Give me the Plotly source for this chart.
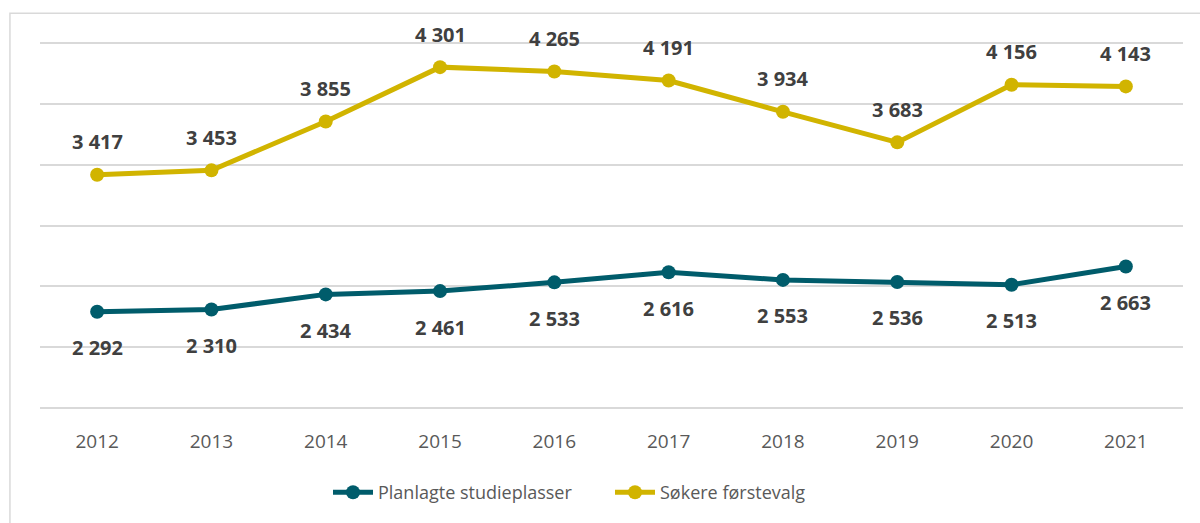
import plotly.graph_objects as go

years = ["2012", "2013", "2014", "2015", "2016", "2017", "2018", "2019", "2020", "2021"]
planlagte = [2292, 2310, 2434, 2461, 2533, 2616, 2553, 2536, 2513, 2663]
sokere = [3417, 3453, 3855, 4301, 4265, 4191, 3934, 3683, 4156, 4143]

teal = "#005C6B"
gold = "#D1B400"
lab = "#404040"
font = "Open Sans"

def fmt(v):
    return f"{v:,}".replace(",", " ")

fig = go.Figure()
fig.add_trace(go.Scatter(x=years, y=planlagte, mode="lines+markers", name="Planlagte studieplasser",
                         line=dict(color=teal, width=5), marker=dict(size=14, color=teal)))
fig.add_trace(go.Scatter(x=years, y=sokere, mode="lines+markers", name="Søkere førstevalg",
                         line=dict(color=gold, width=5), marker=dict(size=14, color=gold)))

anns = []
for i, v in enumerate(planlagte):
    anns.append(dict(x=i, y=v, xref="x", yref="y", text="<b>" + fmt(v) + "</b>", showarrow=False, yshift=-36,
                     font=dict(family=font, size=20, color=lab)))
for i, v in enumerate(sokere):
    anns.append(dict(x=i, y=v, xref="x", yref="y", text="<b>" + fmt(v) + "</b>", showarrow=False, yshift=33,
                     font=dict(family=font, size=20, color=lab)))

fig.update_layout(
    width=1200, height=523,
    margin=dict(l=40, r=17, t=40, b=110),
    paper_bgcolor="white", plot_bgcolor="white",
    showlegend=True,
    legend=dict(orientation="h", x=(328 - 40) / 1143, xanchor="left", y=-0.22, yanchor="middle",
                font=dict(family=font, size=18, color="#595959"), itemwidth=40,
                entrywidth=227),
    annotations=anns,
    xaxis=dict(type="category", range=[-0.5, 9.5], showgrid=False, zeroline=False, showline=False,
               ticks="", ticklabelstandoff=17, tickfont=dict(family=font, size=19, color="#595959")),
    yaxis=dict(range=[1476, 4524], tickvals=[1500, 2000, 2500, 3000, 3500, 4000, 4500],
               showticklabels=False, showgrid=True,
               gridcolor="#D9D9D9", gridwidth=1.5, zeroline=False, showline=False, ticks=""),
    shapes=[dict(type="rect", xref="paper", yref="paper", x0=-0.0263, x1=1.02, y0=-0.35, y1=1.0724,
                 line=dict(color="#D9D9D9", width=1.5), fillcolor="rgba(0,0,0,0)", layer="below")],
)

fig.write_html("out.html", config={"displayModeBar": False},
               post_script="document.body.style.margin='0';")
